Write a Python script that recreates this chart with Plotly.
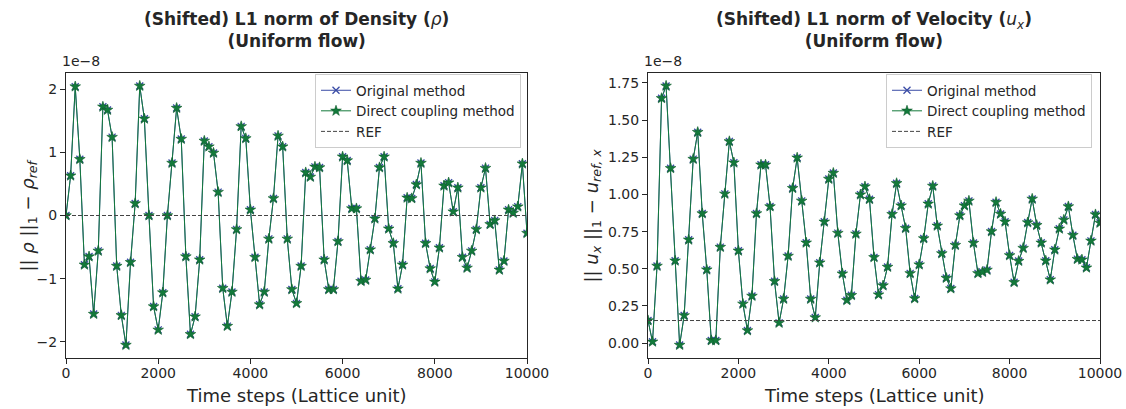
import plotly.graph_objects as go

# Time steps (lattice units), sampled every 100 steps
time_steps = list(range(0, 10001, 100))

# Shifted L1 norm of density, in units of 1e-8
rho_direct = [
    0.00, 0.63, 2.04, 0.89, -0.78, -0.65, -1.56, -0.56, 1.72, 1.67,
    1.24, -0.80, -1.58, -2.05, -0.74, 0.19, 2.05, 1.53, 0.00, -1.44,
    -1.81, -1.22, 0.00, 0.83, 1.70, 1.21, -0.65, -1.88, -1.60, -0.70,
    1.18, 1.09, 0.99, 0.37, -1.15, -1.75, -1.21, -0.22, 1.41, 1.22,
    0.09, -0.66, -1.41, -1.21, -0.37, 0.27, 1.26, 1.09, -0.37, -1.17,
    -1.39, -0.80, 0.68, 0.61, 0.77, 0.76, -0.70, -1.17, -1.17, -0.41,
    0.93, 0.87, 0.11, 0.11, -1.04, -1.02, -0.54, -0.05, 0.76, 0.93,
    -0.21, -0.44, -1.16, -0.78, 0.28, 0.27, 0.49, 0.83, -0.44, -0.84,
    -1.05, -0.51, 0.47, 0.52, 0.06, 0.44, -0.66, -0.83, -0.56, -0.22,
    0.44, 0.75, -0.14, -0.08, -0.86, -0.72, 0.09, 0.04, 0.14, 0.82,
    -0.28,
]

# Shifted L1 norm of x-velocity, in units of 1e-8
ux_direct = [
    0.152, 0.009, 0.519, 1.647, 1.730, 1.176, 0.554, -0.013, 0.186, 0.695,
    1.238, 1.419, 0.872, 0.494, 0.018, 0.018, 0.646, 1.004, 1.357, 1.214,
    0.621, 0.264, 0.085, 0.317, 0.872, 1.200, 1.200, 0.919, 0.416, 0.136,
    0.297, 0.586, 1.042, 1.247, 0.957, 0.675, 0.297, 0.172, 0.541, 0.816,
    1.104, 1.144, 0.740, 0.467, 0.288, 0.322, 0.735, 0.999, 1.053, 0.968,
    0.577, 0.326, 0.387, 0.512, 0.867, 1.075, 0.925, 0.773, 0.469, 0.300,
    0.528, 0.704, 0.937, 1.057, 0.789, 0.603, 0.438, 0.367, 0.659, 0.858,
    0.925, 0.957, 0.673, 0.469, 0.478, 0.492, 0.751, 0.948, 0.869, 0.816,
    0.590, 0.409, 0.552, 0.639, 0.811, 0.970, 0.793, 0.675, 0.554, 0.427,
    0.628, 0.769, 0.829, 0.919, 0.726, 0.565, 0.561, 0.507, 0.688, 0.865,
    0.809,
]

# The original method agrees with direct coupling to plotting precision
rho_original = list(rho_direct)
ux_original = list(ux_direct)

# Reference levels (initial values)
rho_ref = rho_direct[0]
ux_ref = ux_direct[0]

scale_exponent = -8
x_ticks = [0, 2000, 4000, 6000, 8000, 10000]
rho_ticks = [-2, -1, 0, 1, 2]
ux_ticks = [0.0, 0.25, 0.5, 0.75, 1.0, 1.25, 1.5, 1.75]

titles = [
    "<b>(Shifted) L1 norm of Density (</b><i>ρ</i><b>)<br>(Uniform flow)</b>",
    "<b>(Shifted) L1 norm of Velocity (</b><i>u<sub>x</sub></i><b>)<br>(Uniform flow)</b>",
]
y_titles = [
    "|| <i>ρ</i> ||<sub>1</sub> − <i>ρ<sub>ref</sub></i>",
    "|| <i>u<sub>x</sub></i> ||<sub>1</sub> − <i>u<sub>ref, x</sub></i>",
]
x_title = "Time steps (Lattice unit)"

BLUE = "#3a4ca6"
GREEN = "#137a3b"
REF_COLOR = "#444444"
INK = "#262626"
FONT = "DejaVu Sans"

W, H = 1126, 409
# Plot-area boxes in pixels: (left, right, top, bottom)
boxes = [(66, 527, 73, 358), (648, 1100, 73, 358)]
# Horizontal centre of each rotated y-axis title, in pixels
y_title_x = [29, 593]


def padded(vals):
    lo, hi = min(vals), max(vals)
    pad = 0.05 * (hi - lo)
    return [lo - pad, hi + pad]


fig = go.Figure()

panels = [
    (rho_original, rho_direct, rho_ref, rho_ticks, ".0f", "legend"),
    (ux_original, ux_direct, ux_ref, ux_ticks, ".2f", "legend2"),
]

for i, (orig, direct, ref, yt, yfmt, leg) in enumerate(panels):
    xa = "x" if i == 0 else "x2"
    ya = "y" if i == 0 else "y2"
    fig.add_trace(go.Scatter(
        x=time_steps, y=orig, name="Original method", mode="lines+markers",
        line=dict(color=BLUE, width=1),
        marker=dict(symbol="x-thin", size=7, line=dict(color=BLUE, width=1.3)),
        xaxis=xa, yaxis=ya, legend=leg,
    ))
    fig.add_trace(go.Scatter(
        x=time_steps, y=direct, name="Direct coupling method", mode="lines+markers",
        line=dict(color=GREEN, width=1),
        marker=dict(symbol="star", size=8, color=GREEN,
                    line=dict(color="#0d5c2b", width=0.6)),
        xaxis=xa, yaxis=ya, legend=leg,
    ))
    fig.add_trace(go.Scatter(
        x=[time_steps[0], time_steps[-1]], y=[ref, ref], name="REF", mode="lines",
        line=dict(color=REF_COLOR, width=1, dash="4px,2px"),
        xaxis=xa, yaxis=ya, legend=leg,
    ))

    l, r, t, b = boxes[i]
    axis_common = dict(
        showline=True, linecolor=INK, linewidth=1, mirror=True,
        ticks="outside", ticklen=5, tickwidth=1, tickcolor=INK,
        showgrid=False, zeroline=False, automargin=False,
        tickfont=dict(family=FONT, size=14, color=INK),
    )
    fig.update_layout(**{
        ("xaxis" if i == 0 else "xaxis2"): dict(
            domain=[l / W, r / W], range=[time_steps[0], time_steps[-1]],
            anchor=ya, tickvals=x_ticks, tickformat="d", ticklabelstandoff=-3,
            **axis_common,
        ),
        ("yaxis" if i == 0 else "yaxis2"): dict(
            domain=[1 - b / H, 1 - t / H], range=padded(direct),
            anchor=xa, tickvals=yt, tickformat=yfmt,
            **axis_common,
        ),
    })

    # Panel title
    fig.add_annotation(
        x=(l + r) / 2 / W, y=1 - 30 / H, xref="paper", yref="paper",
        text=titles[i], showarrow=False, xanchor="center", yanchor="middle",
        font=dict(family=FONT, size=17, color=INK),
    )
    # Axis titles
    fig.add_annotation(
        x=(l + r) / 2 / W, y=1 - 395 / H, xref="paper", yref="paper",
        text=x_title, showarrow=False, xanchor="center", yanchor="middle",
        font=dict(family=FONT, size=18, color=INK),
    )
    fig.add_annotation(
        x=y_title_x[i] / W, y=1 - (t + b) / 2 / H, xref="paper", yref="paper",
        text=y_titles[i], showarrow=False, textangle=-90,
        xanchor="center", yanchor="middle",
        font=dict(family=FONT, size=18, color=INK),
    )
    # Scale factor shown above the y axis
    fig.add_annotation(
        x=(l - 6) / W, y=1 - (t - 2) / H, xref="paper", yref="paper",
        text=f"1e−{abs(scale_exponent)}", showarrow=False,
        xanchor="left", yanchor="bottom",
        font=dict(family=FONT, size=14, color=INK),
    )

legend_style = dict(
    bgcolor="rgba(255,255,255,0.8)", bordercolor="#cccccc", borderwidth=1,
    font=dict(family=FONT, size=13.5, color=INK),
    xanchor="right", yanchor="top", y=1 - 74 / H,
    tracegroupgap=0, itemwidth=30,
)
fig.update_layout(
    width=W, height=H,
    margin=dict(l=0, r=0, t=0, b=0),
    paper_bgcolor="white", plot_bgcolor="white",
    font=dict(family=FONT, color=INK),
    legend=dict(x=521 / W, **legend_style),
    legend2=dict(x=1092 / W, **legend_style),
)

fig.write_html("out.html")
